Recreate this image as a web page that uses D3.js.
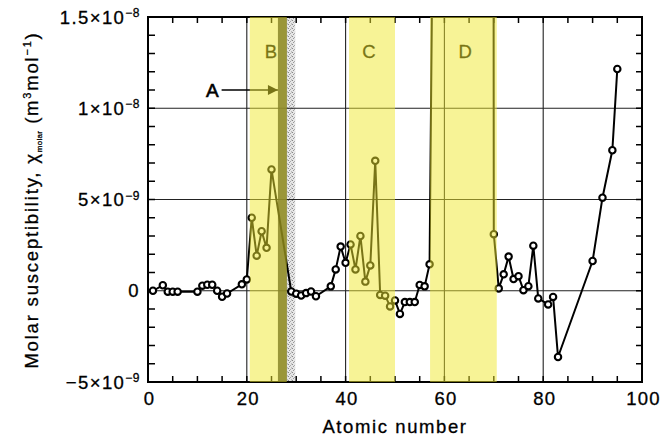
<!DOCTYPE html>
<html><head><meta charset="utf-8">
<script src="https://cdn.jsdelivr.net/npm/d3@7"></script>
<style>
body{margin:0;background:#fff}
svg{display:block}
text{font-family:"Liberation Sans",Arial,Helvetica,sans-serif;fill:#000}
.lab{stroke:#000;stroke-width:0.3}
</style>
</head><body>
<svg id="c" width="669" height="438"></svg>
<script>
// Atomic numbers of the measured elements
const atomicNumbers = [1,3,4,5,6,10,11,12,13,14,15,16,19,20,21,22,23,24,25,29,30,31,32,33,34,37,38,39,40,41,42,43,44,45,46,47,48,49,50,51,52,53,54,55,56,57,58,69,70,71,72,73,74,75,76,77,78,79,81,82,83,90,92,94,95];
// Molar susceptibility in units of 1e-9 m^3 mol^-1 (58 and 69 are off the chart)
const susceptibility = [0.0,0.3,-0.05,-0.05,-0.05,-0.05,0.28,0.33,0.33,0.0,-0.33,-0.15,0.35,0.62,4.0,1.92,3.26,2.35,6.65,-0.04,-0.16,-0.26,-0.13,-0.04,-0.3,0.24,1.17,2.42,1.53,2.54,1.17,3.0,0.5,1.39,7.12,-0.23,-0.27,-0.86,-0.53,-1.27,-0.62,-0.62,-0.62,0.32,0.24,1.45,31,320,3.1,0.13,0.9,1.87,0.64,0.8,0.03,0.25,2.47,-0.42,-0.75,-0.34,-3.63,1.63,5.1,7.7,12.15];
const xTickValues = [0,20,40,60,80,100];
const yTickValues = [-5,0,5,10,15];
const yTickMantissa = ["\u22125\u00d710","0","5\u00d710","1\u00d710","1.5\u00d710"];
const yTickExponent = ["\u22129","","\u22129","\u22128","\u22128"];
const gridX = [20,40,60,80];
const gridY = [0,5,10];
const bandNames = ["B","C","D"];
const bandFrom = [20.6,40.7,57.1];
const bandTo = [28.1,50.0,70.6];
const bandLabelX = [24.9,44.7,64.2];
const bandLabelY = 13.1;
const ferroBand = [26.3,28.1];     // "A"
const stippleBand = [28.1,29.8];
const arrowA = {label:"A", from:14.9, to:26.3, y:11.0, labelX:13.0};

const svg = d3.select("#c");
const x = d3.scaleLinear().domain([0,100]).range([148,642]);
const y = d3.scaleLinear().domain([-5,15]).range([382,17]);
const [x0,x1] = x.range(); const [yb,yt] = y.range();

const defs = svg.append("defs");
defs.append("clipPath").attr("id","plot").append("rect")
  .attr("x",x0).attr("y",yt).attr("width",x1-x0).attr("height",yb-yt);
const pat = defs.append("pattern").attr("id","stip").attr("patternUnits","userSpaceOnUse")
  .attr("width",4).attr("height",4);
pat.append("rect").attr("width",4).attr("height",4).attr("fill","#e6e6e6");
[[0,0,"#888"],[2,1,"#aaa"],[1,2,"#999"],[3,3,"#bbb"],[3,0,"#ccc"]].forEach(p=>
  pat.append("rect").attr("x",p[0]).attr("y",p[1]).attr("width",1).attr("height",1).attr("fill",p[2]));
defs.append("marker").attr("id","arr").attr("viewBox","0 0 10 10").attr("refX",10).attr("refY",5)
  .attr("markerWidth",15).attr("markerHeight",10).attr("markerUnits","userSpaceOnUse").attr("orient","auto")
  .append("path").attr("d","M0,0L10,5L0,10Z").attr("fill","#000");

// stipple and ferromagnetic stripe (under the yellow)
svg.append("rect").attr("x",x(stippleBand[0])).attr("y",yt).attr("width",x(stippleBand[1])-x(stippleBand[0]))
  .attr("height",yb-yt).attr("fill","url(#stip)");
svg.append("rect").attr("x",x(ferroBand[0])).attr("y",yt).attr("width",x(ferroBand[1])-x(ferroBand[0]))
  .attr("height",yb-yt).attr("fill","#444");

// grid
svg.append("g").selectAll("line").data(gridX).join("line")
  .attr("x1",d=>x(d)).attr("x2",d=>x(d)).attr("y1",yt).attr("y2",yb)
  .attr("stroke","#222").attr("stroke-width",1.1);
svg.append("g").selectAll("line").data(gridY).join("line")
  .attr("y1",d=>y(d)).attr("y2",d=>y(d)).attr("x1",x0).attr("x2",x1)
  .attr("stroke","#222").attr("stroke-width",1.1);

// ticks (inward, all four sides)
const tk = svg.append("g").attr("stroke","#000").attr("stroke-width",1.5);
const xMinor = d3.range(5,100,5);
const yMinor = d3.range(-4,15,1);
xMinor.forEach(v=>{
  tk.append("line").attr("x1",x(v)).attr("x2",x(v)).attr("y1",yb).attr("y2",yb-6);
  tk.append("line").attr("x1",x(v)).attr("x2",x(v)).attr("y1",yt).attr("y2",yt+6);
});
yMinor.forEach(v=>{
  tk.append("line").attr("x1",x0).attr("x2",x0+7).attr("y1",y(v)).attr("y2",y(v));
  tk.append("line").attr("x1",x1).attr("x2",x1-6).attr("y1",y(v)).attr("y2",y(v));
});
svg.append("rect").attr("x",x0).attr("y",yt).attr("width",x1-x0).attr("height",yb-yt)
  .attr("fill","none").attr("stroke","#000").attr("stroke-width",2);

// data
const pts = atomicNumbers.map((z,i)=>[z,susceptibility[i]]);
const gData = svg.append("g").attr("clip-path","url(#plot)");
gData.append("path").datum(pts)
  .attr("d",d3.line().x(d=>x(d[0])).y(d=>y(d[1])))
  .attr("fill","none").attr("stroke","#000").attr("stroke-width",2).attr("stroke-linejoin","round");
gData.selectAll("circle").data(pts).join("circle")
  .attr("cx",d=>x(d[0])).attr("cy",d=>y(d[1])).attr("r",3.2)
  .attr("fill","#fff").attr("stroke","#000").attr("stroke-width",2.1);

// band labels and arrow A
svg.append("g").selectAll("text").data(bandNames).join("text")
  .attr("class","lab")
  .attr("x",(d,i)=>x(bandLabelX[i])).attr("y",y(bandLabelY)).attr("dy","0.35em")
  .attr("text-anchor","middle").attr("font-size",18.5).text(d=>d);
svg.append("text").attr("x",x(arrowA.labelX)).attr("y",y(arrowA.y)).attr("dy","0.36em")
  .attr("text-anchor","middle").attr("font-size",19).attr("stroke","#000").attr("stroke-width",0.6).text(arrowA.label);
svg.append("line").attr("x1",x(arrowA.from)).attr("x2",x(arrowA.to)).attr("y1",y(arrowA.y)).attr("y2",y(arrowA.y))
  .attr("stroke","#000").attr("stroke-width",1.6).attr("marker-end","url(#arr)");

// yellow bands overlay
svg.append("g").selectAll("rect").data(bandNames).join("rect")
  .attr("x",(d,i)=>x(bandFrom[i])).attr("width",(d,i)=>x(bandTo[i])-x(bandFrom[i]))
  .attr("y",yt).attr("height",yb-yt)
  .attr("fill","rgb(240,232,45)").attr("fill-opacity",0.5);

// x tick labels
svg.append("g").selectAll("text").data(xTickValues).join("text").attr("class","lab")
  .attr("x",d=>x(d)+1.5).attr("y",405).attr("text-anchor","middle").attr("font-size",18.5)
  .attr("letter-spacing",1.2).text(d=>d);
svg.append("text").attr("class","lab").attr("x",395).attr("y",433).attr("text-anchor","middle").attr("font-size",18.5)
  .attr("letter-spacing",1.6).text("Atomic number");

// y tick labels
const yl = svg.append("g").selectAll("text").data(yTickValues).join("text").attr("class","lab")
  .attr("x",140).attr("y",d=>y(d)).attr("dy","0.36em").attr("text-anchor","end").attr("font-size",18.5)
  .attr("letter-spacing",1.4);
yl.append("tspan").text((d,i)=>yTickMantissa[i]);
yl.append("tspan").attr("dy","-0.55em").attr("font-size",12).attr("letter-spacing",0.5).text((d,i)=>yTickExponent[i]);

// y title
const yt2 = svg.append("text").attr("class","lab").attr("transform","translate(38,200) rotate(-90)")
  .attr("text-anchor","middle").attr("font-size",18.5).attr("letter-spacing",1.8);
yt2.append("tspan").text("Molar susceptibility, \u03c7");
yt2.append("tspan").attr("font-size",8).attr("dy",4).attr("letter-spacing",0.3).text("molar");
yt2.append("tspan").attr("dy",-4).text(" (m");
yt2.append("tspan").attr("font-size",11).attr("dy",-7).text("3");
yt2.append("tspan").attr("dy",7).text("mol");
yt2.append("tspan").attr("font-size",11).attr("dy",-7).text("\u22121");
yt2.append("tspan").attr("dy",7).text(")");
</script>
</body></html>
